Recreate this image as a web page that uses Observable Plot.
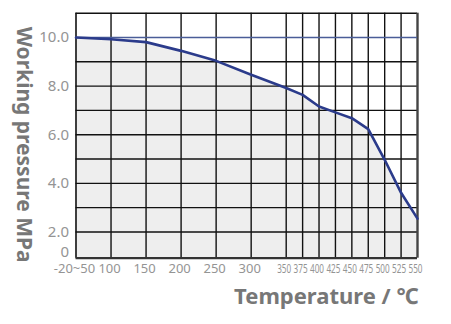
<!DOCTYPE html>
<html>
<head>
<meta charset="utf-8">
<script src="https://cdn.jsdelivr.net/npm/d3@7"></script>
<script src="https://cdn.jsdelivr.net/npm/@observablehq/plot@0.6"></script>
<style>
  html, body { margin: 0; padding: 0; background: #fff; }
  #chart svg { display: block; }
</style>
</head>
<body>
<div id="chart"></div>
<script>
// Data
const temps = [50, 100, 150, 200, 250, 300, 350, 375, 400, 425, 450, 475, 500, 525, 550];
const pressure = [10.0, 9.93, 9.81, 9.45, 9.04, 8.47, 7.92, 7.64, 7.16, 6.92, 6.68, 6.23, 4.97, 3.61, 2.55];
const mainTicks = [50, 100, 150, 200, 250, 300];
const mainTickLabels = ["-20~50", "100", "150", "200", "250", "300"];
const denseTicks = [350, 375, 400, 425, 450, 475, 500, 525, 550];
const denseTickLabels = ["350", "375", "400", "425", "450", "475", "500", "525", "550"];
const yTicks = [2, 4, 6, 8, 10];
const yTickLabels = ["2.0", "4.0", "6.0", "8.0", "10.0"];
const yGrid = [2, 3, 4, 5, 6, 7, 8, 9];
const ratedPressure = 10;
const yMin = 0.92, yMax = 11;
const zeroLabelPos = 1.17;

const data = temps.map((t, i) => ({t, p: pressure[i]}));
const allTicks = mainTicks.concat(denseTicks);
const mainLab = mainTicks.map((t, i) => ({t, label: mainTickLabels[i]}));
const denseLab = denseTicks.map((t, i) => ({t, label: denseTickLabels[i]}));
const yLab = yTicks.map((v, i) => ({v, label: yTickLabels[i]})).concat([{v: zeroLabelPos, label: "0"}]);

const tickColor = "#949494";
const titleColor = "#777777";

const chart = Plot.plot({
  width: 451,
  height: 324,
  marginLeft: 75.5,
  marginRight: 34,
  marginTop: 12.7,
  marginBottom: 66.3,
  style: {background: "#fff", fontFamily: "'Noto Sans', sans-serif"},
  x: {type: "linear", domain: [50, 350, 550], range: [75.5, 285.7, 417], axis: null},
  y: {domain: [yMin, yMax], axis: null},
  marks: [
    Plot.areaY(data, {x: "t", y1: yMin, y2: "p", fill: "#eeeeee"}),
    Plot.ruleY(yGrid, {stroke: "#111", strokeWidth: 1.4}),
    Plot.ruleX(allTicks.slice(1, -1), {stroke: "#111", strokeWidth: 1.4}),
    Plot.ruleY([yMax], {stroke: "#111", strokeWidth: 1.6}),
    Plot.ruleX([50], {stroke: "#111", strokeWidth: 1.6}),
    Plot.ruleX([550], {stroke: "#444", strokeWidth: 2.4}),
    Plot.ruleY([yMin], {stroke: "#333", strokeWidth: 2.2}),
    Plot.ruleY([ratedPressure], {stroke: "#4a5d98", strokeWidth: 1.3}),
    Plot.line(data, {x: "t", y: "p", stroke: "#2b3b8b", strokeWidth: 2.6, strokeLinejoin: "round"}),
    Plot.text(yLab, {x: 50, y: "v", text: "label", textAnchor: "end", dx: -7, fontSize: 15, fill: tickColor}),
    Plot.text(mainLab, {x: "t", y: yMin, text: "label", dy: 11, dx: -1.5, fontSize: 13, fill: tickColor}),
    Plot.text(denseLab, {x: "t", y: yMin, text: "label", dy: 11, dx: -2, fontSize: 12.5, fill: tickColor}),
    Plot.text(["Working pressure MPa"], {frameAnchor: "left", textAnchor: "middle", dx: -52, dy: 9, rotate: 90, fontSize: 21, fontWeight: "bold", fill: titleColor}),
    Plot.text(["Temperature / ℃"], {frameAnchor: "bottom-right", textAnchor: "end", dx: 1, dy: 46, fontSize: 22, fontWeight: "bold", fill: titleColor})
  ]
});
// condense the crowded tick labels so they fit their narrow columns
d3.select(chart).selectAll("text")
  .filter(function () { return denseTickLabels.includes(this.textContent); })
  .attr("textLength", 14)
  .attr("lengthAdjust", "spacingAndGlyphs");
document.getElementById("chart").appendChild(chart);
</script>
</body>
</html>
